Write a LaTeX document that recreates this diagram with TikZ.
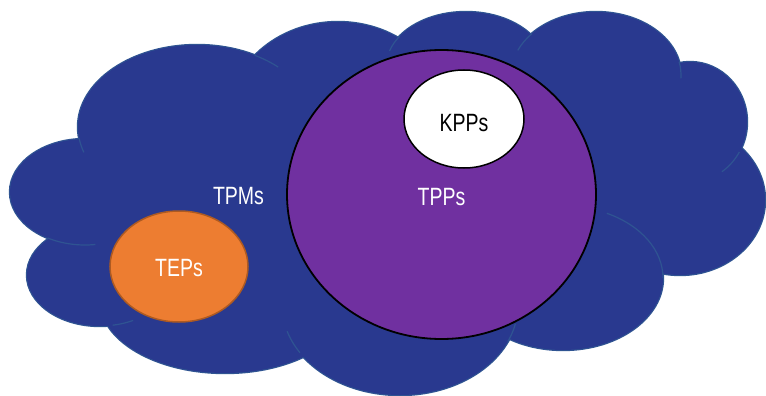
\documentclass[tikz,border=0pt]{standalone}
\usepackage{fontspec}
\setmainfont{Liberation Sans}
\usetikzlibrary{shapes.geometric}
\definecolor{cloudfill}{RGB}{41,57,143}
\definecolor{cloudedge}{RGB}{47,84,146}
\definecolor{tppfill}{RGB}{112,48,160}
\definecolor{tepfill}{RGB}{237,125,49}
\definecolor{tepedge}{RGB}{174,90,33}
\newcommand{\narrowtxt}[1]{\scalebox{0.78}[1]{#1}}

\begin{document}
\begin{tikzpicture}[x=1pt,y=-1pt,
  lbl/.style={font=\fontsize{25}{30}\selectfont, inner sep=0pt, anchor=base},
  blob/.style={ellipse, draw, inner sep=0pt}]
\useasboundingbox (0,0) rectangle (766,396);

% cloud lobes: outline first, then the fill covers the inner half of each stroke
\def\lobes{197/127/119/82, 338/119/110/97, 466/67/80/55, 596/75/85/63,
  690/122/57/60, 680/200/85/75, 563/278/100/72, 400/305/118/90,
  225/300/125/73, 100/275/73/51, 85/192/75/53}
\foreach \cx/\cy/\rx/\ry in \lobes
  \draw[cloudedge, line width=2.4] (\cx,\cy) ellipse [x radius=\rx, y radius=\ry];
\foreach \cx/\cy/\rx/\ry in \lobes
  \fill[cloudfill] (\cx,\cy) ellipse [x radius=\rx, y radius=\ry];
% core of the cloud
\fill[cloudfill] (380,210) ellipse [x radius=260, y radius=110];
\fill[cloudfill] (615,150) ellipse [x radius=60, y radius=45];

% short inner arcs where lobes overlap
\foreach \cx/\cy/\rx/\ry/\a/\b in {
  197/127/119/82/172/162, 197/127/119/82/-61/-47,
  466/67/80/55/214/197, 596/75/85/63/221/203, 596/75/85/63/-12/3,
  690/122/57/60/30/56, 563/278/100/72/-64/0, 85/192/75/53/120/82,
  100/275/73/51/80/63, 400/305/118/90/148/163, 400/305/118/90/24/12}
  \draw[cloudedge, line width=1.2]
    ({\cx+\rx*cos(\a)},{\cy+\ry*sin(\a)}) arc[start angle=\a, end angle=\b, x radius=\rx, y radius=\ry];

% sets
\node[blob, fill=tepfill, draw=tepedge, line width=1.5, minimum width=138, minimum height=111] (teps) at (179,266.5) {};
\node[blob, fill=tppfill, draw=black, line width=1.8, minimum width=309, minimum height=289] (tpps) at (441.5,194.5) {};
\node[blob, fill=white, draw=black, line width=1.5, minimum width=120, minimum height=98] (kpps) at (464,119) {};

% labels
\node[lbl, text=white] (tpmslbl) at (238.5,204) {\narrowtxt{TPMs}};
\node[lbl, text=white] (tepslbl) at (179,276) {\narrowtxt{TEPs}};
\node[lbl, text=white] (tppslbl) at (441.5,205) {\narrowtxt{TPPs}};
\node[lbl, text=black] (kppslbl) at (464,131) {\narrowtxt{KPPs}};
\end{tikzpicture}
\end{document}
